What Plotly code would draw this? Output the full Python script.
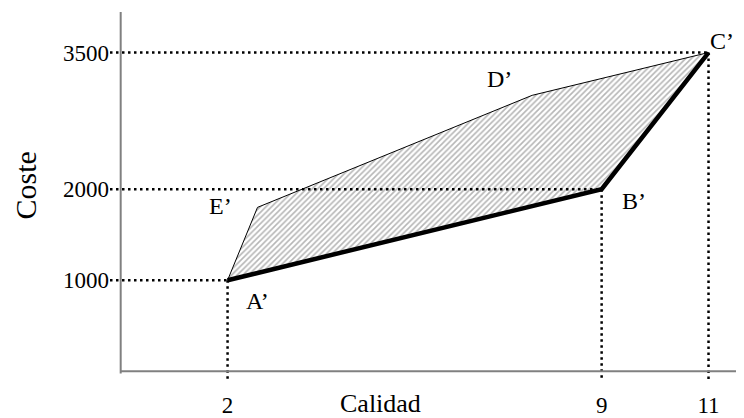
import plotly.graph_objects as go

# ---- data ----
point_labels = ["A’", "E’", "D’", "C’", "B’"]
calidad = [2, 2.56, 7.7, 11, 9]
coste = [1000, 1800, 3030, 3500, 2000]

x_ticks = [2, 9, 11]
y_ticks = [1000, 2000, 3500]
x_title = "Calidad"
y_title = "Coste"

# ---- layout constants ----
X_RANGE = [-0.2, 11.664]
Y_RANGE = [-150, 3945]
FONT = "Liberation Serif, Times New Roman, serif"
PAGE_OFFSET = 8  # default body margin of the html page

fig = go.Figure()

# shaded region (polygon A' E' D' C' B')
fig.add_trace(go.Scatter(
    x=calidad + [calidad[0]], y=coste + [coste[0]],
    mode="lines", fill="toself",
    fillcolor="white",
    fillpattern=dict(shape="/", fgcolor="#6e6e6e", bgcolor="white",
                     size=4, solidity=0.4),
    line=dict(width=0, color="rgba(0,0,0,0)"),
    hoverinfo="skip", showlegend=False))

# dotted guide lines to the ticked points
DOT = dict(color="black", width=2.5, dash="2.5px,3.5px")
for xv, yv in zip(calidad, coste):
    if yv in y_ticks:
        fig.add_trace(go.Scatter(
            x=[X_RANGE[0], xv], y=[yv, yv], mode="lines", line=DOT,
            hoverinfo="skip", showlegend=False))
    if xv in x_ticks:
        fig.add_trace(go.Scatter(
            x=[xv, xv], y=[yv, -105], mode="lines", line=DOT,
            hoverinfo="skip", showlegend=False))

# thin upper boundary A' E' D' C'
fig.add_trace(go.Scatter(
    x=calidad[0:4], y=coste[0:4], mode="lines",
    line=dict(color="black", width=1),
    hoverinfo="skip", showlegend=False))

# thick frontier A' B' C'
fr = [0, 4, 3]
fig.add_trace(go.Scatter(
    x=[calidad[i] for i in fr], y=[coste[i] for i in fr], mode="lines",
    line=dict(color="black", width=4.5),
    hoverinfo="skip", showlegend=False))

# axes lines
fig.add_shape(type="line", xref="x", yref="y", x0=0, x1=0, y0=-25, y1=Y_RANGE[1],
              line=dict(color="#808080", width=2))
fig.add_shape(type="line", xref="x", yref="y", x0=0, x1=X_RANGE[1], y0=0, y1=0,
              line=dict(color="#808080", width=2))

# point labels
offsets = {"A’": (30, -21), "E’": (-37, 1), "D’": (-33, 16), "C’": (13, 12), "B’": (32, -12)}
for lab, xv, yv in zip(point_labels, calidad, coste):
    dx, dy = offsets[lab]
    fig.add_annotation(x=xv, y=yv, xref="x", yref="y", text=lab, showarrow=False,
                       xshift=dx, yshift=dy, font=dict(family=FONT, size=24, color="black"))

# axis titles
fig.add_annotation(x=0.426, y=-0.05, xref="paper", yref="paper", text=x_title,
                   showarrow=False, xanchor="center", yanchor="middle",
                   font=dict(family=FONT, size=26, color="black"))
fig.add_annotation(x=-0.134, y=0.535, xref="paper", yref="paper", text=y_title,
                   textangle=-90, showarrow=False, xanchor="center", yanchor="middle",
                   font=dict(family=FONT, size=30, color="black"))

fig.update_xaxes(range=X_RANGE, tickvals=x_ticks, ticktext=[str(v) for v in x_ticks],
                 showgrid=False, zeroline=False, showline=False, ticks="",
                 ticklabelstandoff=4,
                 tickfont=dict(family=FONT, size=23, color="black"))
fig.update_yaxes(range=Y_RANGE, tickvals=y_ticks, ticktext=[str(v) for v in y_ticks],
                 showgrid=False, zeroline=False, showline=False, ticks="",
                 ticklabelstandoff=0,
                 tickfont=dict(family=FONT, size=23, color="black"))

fig.update_layout(width=744 - PAGE_OFFSET, height=418 - PAGE_OFFSET,
                  margin=dict(l=110 - PAGE_OFFSET, r=0, t=12 - PAGE_OFFSET, b=31),
                  plot_bgcolor="white", paper_bgcolor="white",
                  showlegend=False)

fig.write_html("out.html")
